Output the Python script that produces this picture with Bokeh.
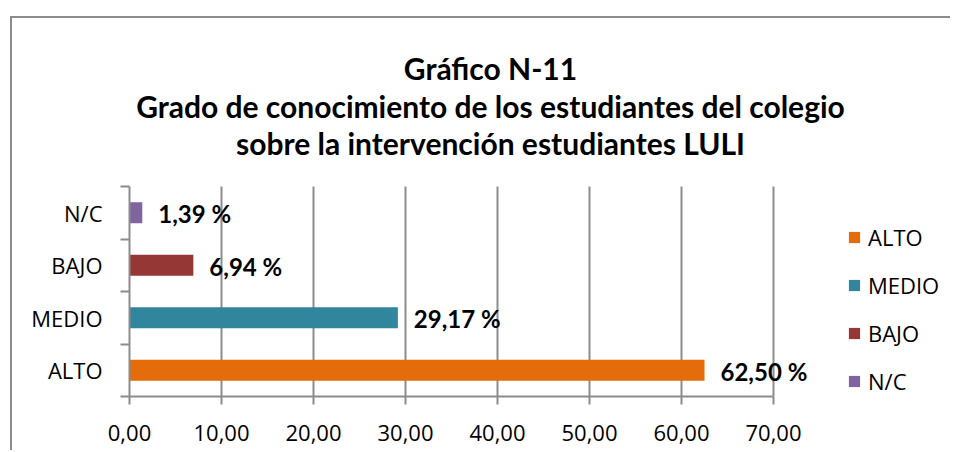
from bokeh.plotting import figure
from bokeh.models import (ColumnDataSource, FixedTicker, CustomJSTickFormatter, Label,
                          Legend, LegendItem, Range1d)
from bokeh.embed import file_html
from bokeh.resources import INLINE
from bokeh.core.properties import value

categories = ["ALTO", "MEDIO", "BAJO", "N/C"]
percentages = [62.50, 29.17, 6.94, 1.39]
bar_colors = ["#E46C0A", "#31859C", "#953735", "#8064A2"]
x_ticks = [0, 10, 20, 30, 40, 50, 60, 70]
title_lines = ["Gráfico N-11",
               "Grado de conocimiento de los estudiantes del colegio",
               "sobre la intervención estudiantes LULI"]

GRAY = "#8c8c8c"

# layout (pixels)
W, H = 940, 434
LEFT, BOTTOM = 117, 56
PLOT_W, PLOT_H = 644, 210      # pixel extent of the bar area (0..70, 4 bands)
frame_w, frame_h = W - LEFT, H - BOTTOM
n = len(categories)
x_end = x_ticks[-1] * frame_w / PLOT_W
y_end = n * frame_h / PLOT_H

positions = [i + 0.5 for i in range(n)]
labels = [f"{v:.2f} %".replace(".", ",") for v in percentages]

src = ColumnDataSource(dict(cat=categories, pct=percentages, color=bar_colors,
                            pos=positions, label=labels))

p = figure(width=W, height=H, output_backend="svg", toolbar_location=None,
           x_range=Range1d(x_ticks[0], x_end), y_range=Range1d(0, y_end),
           min_border_left=LEFT, min_border_right=0, min_border_top=0,
           min_border_bottom=BOTTOM)
p.margin = (16, 0, 0, 10)
p.styles = {"border-left": f"2px solid {GRAY}", "border-top": f"2px solid {GRAY}"}
p.outline_line_color = None
p.background_fill_color = "white"
p.border_fill_color = "white"

# x axis
p.xaxis.ticker = FixedTicker(ticks=x_ticks)
p.xaxis.bounds = (x_ticks[0], x_ticks[-1])
p.xaxis.formatter = CustomJSTickFormatter(code="return tick.toFixed(2).replace('.', ',');")
p.xaxis.major_tick_in = 0
p.xaxis.major_tick_out = 8
p.xaxis.minor_tick_line_color = None
p.xaxis.axis_line_color = GRAY
p.xaxis.axis_line_width = 2
p.xaxis.major_tick_line_color = GRAY
p.xaxis.major_tick_line_width = 2
p.xaxis.major_label_text_font = "Open Sans"
p.xaxis.major_label_text_font_size = "22px"
p.xaxis.major_label_text_color = "black"
p.xaxis.major_label_standoff = 20

# y axis
p.yaxis.ticker = FixedTicker(ticks=positions, minor_ticks=list(range(n + 1)))
p.yaxis.bounds = (0, n)
p.yaxis.formatter = CustomJSTickFormatter(args=dict(cats=categories),
                                          code="return cats[Math.floor(tick)];")
p.yaxis.major_tick_line_color = None
p.yaxis.major_tick_in = 0
p.yaxis.major_tick_out = 9
p.yaxis.minor_tick_in = 0
p.yaxis.minor_tick_out = 9
p.yaxis.minor_tick_line_color = GRAY
p.yaxis.minor_tick_line_width = 2
p.yaxis.axis_line_color = GRAY
p.yaxis.axis_line_width = 2
p.yaxis.major_label_text_font = "Open Sans"
p.yaxis.major_label_text_font_size = "22px"
p.yaxis.major_label_text_color = "black"
p.yaxis.major_label_standoff = 18

# grid: vertical lines only over the bar area
p.ygrid.visible = False
try:
    p.xgrid.cross_bounds = (0, n)
    p.xgrid.ticker = FixedTicker(ticks=x_ticks)
    p.xgrid.grid_line_color = GRAY
    p.xgrid.grid_line_width = 2
except Exception:
    p.xgrid.visible = False
    p.segment(x0=x_ticks, y0=[0] * len(x_ticks), x1=x_ticks, y1=[n] * len(x_ticks),
              line_color=GRAY, line_width=2)

bars = p.hbar(y="pos", left=0, right="pct", height=0.4, fill_color="color",
              line_color=None, source=src)

p.text(x="pct", y="pos", text="label", x_offset=16, y_offset=1,
       text_baseline="middle", text_align="left", text_font=value("Lato"),
       text_font_style="bold", text_font_size="24px", text_color="black", source=src)

items = [LegendItem(label=c, renderers=[bars], index=i) for i, c in enumerate(categories)]
legend = Legend(items=items, location=(718, 0), orientation="vertical",
                glyph_width=14, glyph_height=14, label_standoff=7, spacing=18,
                padding=0, margin=0, border_line_color=None, background_fill_alpha=0,
                label_text_font="Open Sans", label_text_font_size="22px",
                label_text_color="black")
p.add_layout(legend, "center")

# title lines: centre x and baselines, in pixels from the frame's bottom-left
title_x = 361
title_y = [329, 291, 254]
for line, ty in zip(title_lines, title_y):
    p.add_layout(Label(x=title_x, y=ty, x_units="screen", y_units="screen", text=line,
                       text_align="center", text_baseline="alphabetic",
                       text_font="Lato", text_font_style="bold", text_font_size="30px",
                       text_color="black"))

open("out.html", "w").write(file_html(p, INLINE))
